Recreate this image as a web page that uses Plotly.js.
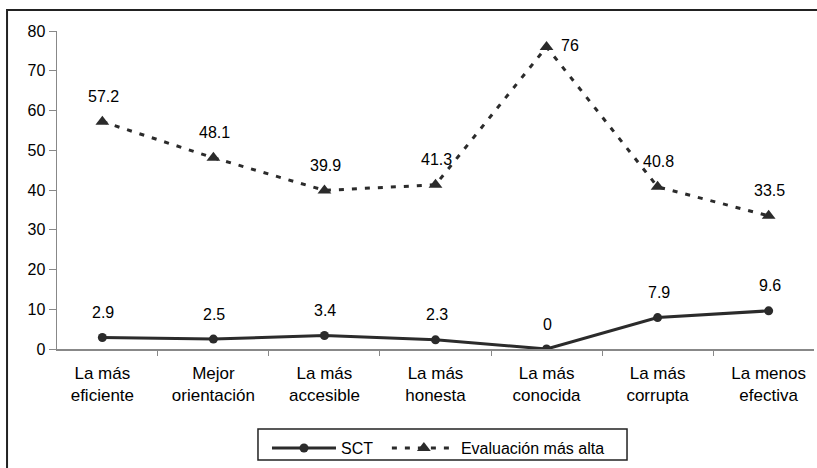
<!DOCTYPE html>
<html>
<head>
<meta charset="utf-8">
<script src="https://cdn.plot.ly/plotly-3.0.1.min.js"></script>
<style>html,body{margin:0;padding:0;background:#fff;}#chart{width:817px;height:468px;}</style>
</head>
<body>
<div id="chart"></div>
<script>
var categories = ["La más<br>eficiente", "Mejor<br>orientación", "La más<br>accesible", "La más<br>honesta", "La más<br>conocida", "La más<br>corrupta", "La menos<br>efectiva"];
var sctValues = [2.9, 2.5, 3.4, 2.3, 0, 7.9, 9.6];
var evalValues = [57.2, 48.1, 39.9, 41.3, 76, 40.8, 33.5];
var yTicks = [0, 10, 20, 30, 40, 50, 60, 70, 80];
var seriesNames = ["SCT", "Evaluación más alta"];

var FONT = "Liberation Sans, Arial, sans-serif";
var lineColor = "#2b2b2b";
var yMax = 80;
var traces = [
  {x: categories, y: sctValues, name: seriesNames[0] + "\u00a0\u00a0", type: "scatter", mode: "lines+markers",
   line: {color: lineColor, width: 3}, marker: {symbol: "circle", size: 9, color: lineColor}},
  {x: categories, y: evalValues, name: seriesNames[1], type: "scatter", mode: "lines+markers",
   line: {color: lineColor, width: 3, dash: "5px,8px"}, marker: {symbol: "triangle-up", size: 12, color: lineColor}}
];

var annotations = [];
function addLabels(vals) {
  vals.forEach(function (v, i) {
    var nearTop = v > yMax - 6;
    annotations.push({x: categories[i], y: v, xref: "x", yref: "y", text: String(v), showarrow: false,
      xshift: nearTop ? 23 : 1, yshift: nearTop ? 1 : 25,
      font: {family: FONT, size: 16, color: "#000"}});
  });
}
addLabels(sctValues);
addLabels(evalValues);

var layout = {
  width: 817, height: 468,
  margin: {l: 57, r: 3, t: 31, b: 119},
  paper_bgcolor: "#fff", plot_bgcolor: "#fff",
  font: {family: FONT, size: 16, color: "#000"},
  showlegend: true,
  legend: {orientation: "h", x: 0.2774, xanchor: "left", y: -0.258, yanchor: "top",
    bgcolor: "rgba(0,0,0,0)", borderwidth: 0, itemwidth: 64, font: {family: FONT, size: 16}, itemclick: false},
  xaxis: {type: "category", showgrid: false, zeroline: false, showline: true, linecolor: "#888", linewidth: 1.5,
    ticks: "outside", tickson: "boundaries", ticklen: 5, tickcolor: "#888", ticklabelstandoff: 8,
    tickfont: {family: FONT, size: 17}, fixedrange: true},
  yaxis: {range: [0, yMax], tickvals: yTicks, showgrid: false, zeroline: false, showline: true, linecolor: "#888",
    linewidth: 1.5, ticks: "outside", ticklen: 7, tickcolor: "#888", fixedrange: true},
  annotations: annotations,
  shapes: [
    {type: "rect", xref: "paper", yref: "paper", x0: -0.066, x1: 1.05, y0: -0.6, y1: 1.066,
     line: {color: "#222", width: 2}},
    {type: "rect", xref: "paper", yref: "paper", x0: 0.2655, x1: 0.753, y0: -0.349, y1: -0.2516,
     line: {color: "#222", width: 1.5}}
  ]
};
Plotly.newPlot("chart", traces, layout, {displayModeBar: false, staticPlot: true});
</script>
</body>
</html>
